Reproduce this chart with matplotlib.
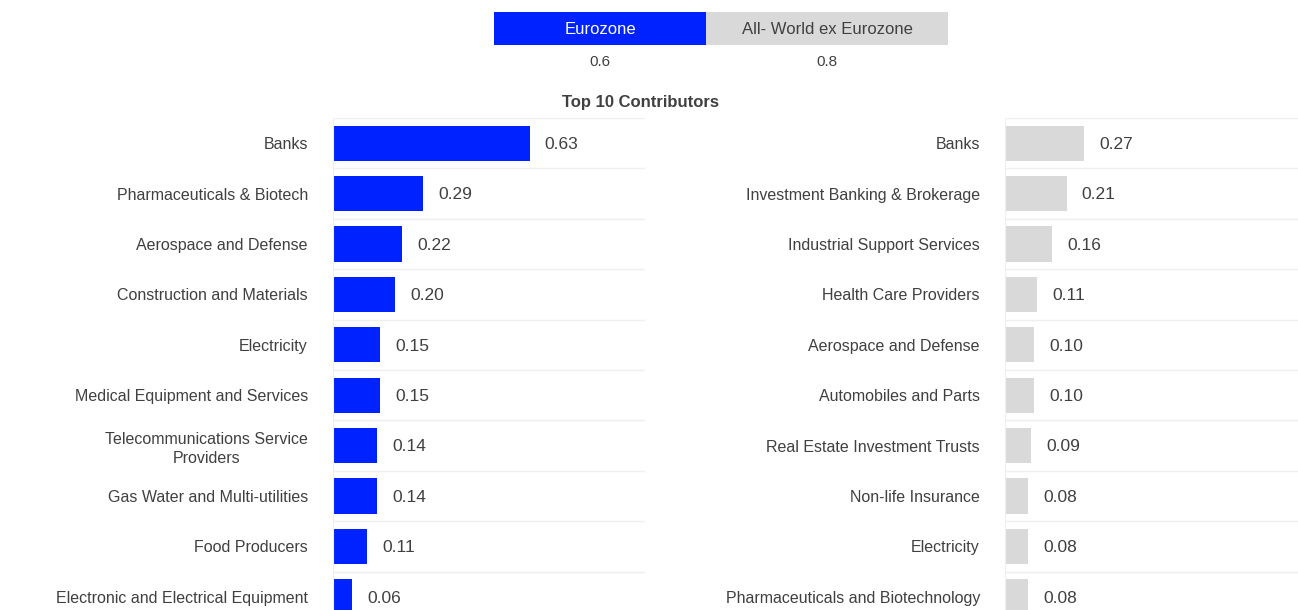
import matplotlib.pyplot as plt
from matplotlib.patches import Rectangle

plt.rcParams['font.family'] = ['Liberation Sans', 'DejaVu Sans']

# Data
ez_sectors = ['Banks', 'Pharmaceuticals & Biotech', 'Aerospace and Defense',
              'Construction and Materials', 'Electricity',
              'Medical Equipment and Services',
              'Telecommunications Service\nProviders',
              'Gas Water and Multi-utilities', 'Food Producers',
              'Electronic and Electrical Equipment']
ez_values = [0.63, 0.29, 0.22, 0.20, 0.15, 0.15, 0.14, 0.14, 0.11, 0.06]

ww_sectors = ['Banks', 'Investment Banking & Brokerage',
              'Industrial Support Services', 'Health Care Providers',
              'Aerospace and Defense', 'Automobiles and Parts',
              'Real Estate Investment Trusts', 'Non-life Insurance',
              'Electricity', 'Pharmaceuticals and Biotechnology']
ww_values = [0.27, 0.21, 0.16, 0.11, 0.10, 0.10, 0.09, 0.08, 0.08, 0.08]

legend_names = ['Eurozone', 'All- World ex Eurozone']
legend_totals = ['0.6', '0.8']

blue = '#0022FF'
grey = '#D9D9D9'
txt = '#404040'

fig = plt.figure(figsize=(12.98, 6.10), dpi=100)


def draw_panel(ax, sectors, values, color):
    y = list(range(len(sectors)))
    ax.barh(y, values, height=0.7, color=color)
    for yi, v in zip(y, values):
        ax.annotate(f'{v:.2f}', (v, yi), xytext=(11, -1), textcoords='offset points',
                    va='center', ha='left', fontsize=12.5, color=txt)
    ax.set_xlim(0, 1)
    ax.set_ylim(len(sectors) - 0.5, -0.5)
    ax.set_yticks(y)
    ax.set_yticklabels(sectors, fontsize=11.5, color=txt)
    for lab in ax.get_yticklabels():
        lab.set_multialignment('center')
        lab.set_linespacing(1.3)
    ax.set_yticks([i - 0.5 for i in range(len(sectors) + 1)], minor=True)
    ax.tick_params(axis='y', which='both', length=0, pad=18)
    ax.set_xticks([])
    ax.grid(axis='y', which='minor', color='#EFEFEF', linewidth=1)
    ax.set_axisbelow(True)
    for s in ['top', 'right', 'bottom']:
        ax.spines[s].set_visible(False)
    ax.spines['left'].set_color('#EFEFEF')


ax1 = fig.add_axes([333 / 1298, -12 / 610, 312 / 1298, 504 / 610])
draw_panel(ax1, ez_sectors, ez_values, blue)
ax2 = fig.add_axes([1005 / 1298, -12 / 610, 293 / 1298, 504 / 610])
draw_panel(ax2, ww_sectors, ww_values, grey)

# legend boxes
boxes = [(494, 706, blue, 'white'), (706, 948, grey, txt)]
for (x0, x1, fc, tc), name, tot in zip(boxes, legend_names, legend_totals):
    fig.add_artist(Rectangle((x0 / 1298, 1 - 45 / 610), (x1 - x0) / 1298, 33 / 610,
                             transform=fig.transFigure, facecolor=fc, edgecolor='none'))
    cx = (x0 + x1) / 2 / 1298
    fig.text(cx, 1 - 29 / 610, name, ha='center', va='center', fontsize=12, color=tc)
    fig.text(cx, 1 - 62 / 610, tot, ha='center', va='center', fontsize=11, color=txt)

fig.text(640 / 1298, 1 - 103 / 610, 'Top 10 Contributors', ha='center', va='center',
         fontsize=12, fontweight='bold', color=txt)

fig.savefig('out.png', dpi=100)
